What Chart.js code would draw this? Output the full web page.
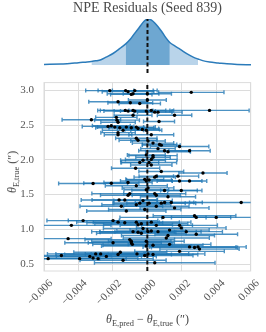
<!DOCTYPE html>
<html>
<head>
<meta charset="utf-8">
<script src="https://cdn.jsdelivr.net/npm/chart.js@4.4.1/dist/chart.umd.min.js"></script>
<style>
    html, body { margin: 0; padding: 0; background: #fff; }
    #wrap { position: relative; width: 266px; height: 332px; overflow: hidden; }
    .box { position: absolute; left: 0; width: 266px; }
    .lab {
        position: absolute;
        font-family: 'Liberation Serif', 'DejaVu Serif', serif;
        font-size: 12px;
        color: #444;
        white-space: nowrap;
        line-height: 1;
    }
    .lab sub { font-size: 0.7em; vertical-align: -0.3em; line-height: 0; }
    #xlab { left: 0; width: 295px; top: 313px; text-align: center; }
    #ylab { left: 12px; top: 172px; transform: translate(-50%, -50%) rotate(-90deg); }
</style>
</head>
<body>
<div id="wrap">
    <div class="box" style="top:66px;height:266px"><canvas id="residChart"></canvas></div>
    <div class="box" style="top:0;height:73px"><canvas id="kdeChart"></canvas></div>
    <div class="lab" id="xlab"><i>θ</i><sub>E,pred</sub> − <i>θ</i><sub>E,true</sub> (″)</div>
    <div class="lab" id="ylab"><i>θ</i><sub>E,true</sub> (″)</div>
</div>
<script>
// residuals (arcsec), true Einstein radius (arcsec), 1-sigma errors (arcsec)
const resid = [
    -0.00218, -0.00126, -0.00112, -0.00073, -0.00083, -0.00093, 0.00000, 0.00255,
    -0.00170, -0.00099, -0.00044, 0.00000, -0.00128, -0.00112, -0.00083, -0.00073,
    -0.00006, 0.00023, 0.00043, 0.00062, 0.00158, 0.00361, -0.00083, -0.00325,
    -0.00180, -0.00176, -0.00170, 0.00068, -0.00209, -0.00228, -0.00189, -0.00160,
    -0.00141, -0.00122, -0.00093, -0.00064, -0.00054, -0.00029, -0.00006, -0.00170,
    -0.00170, -0.00064, -0.00054, 0.00004, 0.00023, 0.00033, 0.00071, 0.00081,
    0.00062, 0.00187, 0.00120, 0.00245, 0.00100, -0.00006, 0.00033,
    -0.00025, 0.00023, 0.00033, -0.00044, 0.00010, -0.00068, 0.00023, 0.00081,
    0.00043, 0.00052, 0.00323, 0.00178, -0.00006, -0.00015, 0.00010, -0.00315,
    -0.00209, -0.00112, 0.00187, 0.00245, -0.00064, 0.00004, -0.00006, -0.00102,
    -0.00112, 0.00043, 0.00052, 0.00100, 0.00197, 0.00120, -0.00164, -0.00131,
    -0.00025, 0.00081, 0.00139, -0.00151, -0.00064, -0.00044, 0.00010, 0.00052,
    0.00100, 0.00545, -0.00122, -0.00015, 0.00158, -0.00373, -0.00441, -0.00199,
    -0.00170, -0.00131, -0.00064, -0.00054, -0.00035, 0.00023, 0.00052, 0.00091,
    0.00187, 0.00274, 0.00284, 0.00400, -0.00083, -0.00054, -0.00035, -0.00025,
    0.00004, 0.00023, 0.00062, 0.00129, 0.00197, 0.00226, 0.00284, -0.00460,
    -0.00102, -0.00093, -0.00006, 0.00110, 0.00120, -0.00199, -0.00093, -0.00087,
    -0.00006, 0.00033, 0.00129, 0.00187, 0.00245, 0.00274, 0.00294, 0.00303,
    -0.00576, -0.00499, -0.00393, -0.00334, -0.00315, -0.00300, -0.00286, -0.00271,
    -0.00238, -0.00170, -0.00157, -0.00141, -0.00060, -0.00015, 0.00004, 0.00033,
    0.00043
];
const thetaTrue = [
    2.995, 2.995, 2.980, 2.995, 2.950, 2.940, 2.950, 2.970,
    2.835, 2.820, 2.810, 2.860, 2.710, 2.700, 2.710, 2.700,
    2.700, 2.710, 2.685, 2.685, 2.640, 2.710, 2.640, 2.575,
    2.610, 2.570, 2.540, 2.550, 2.490, 2.480, 2.470, 2.460,
    2.425, 2.470, 2.460, 2.470, 2.450, 2.435, 2.425, 2.390,
    2.360, 2.310, 2.280, 2.270, 2.360, 2.240, 2.220, 2.210,
    2.160, 2.190, 2.115, 2.130, 2.130, 2.070, 2.060,
    1.992, 2.005, 2.037, 1.960, 1.960, 1.878, 1.924, 1.832,
    1.750, 1.764, 1.810, 1.764, 1.695, 1.718, 1.709, 1.659,
    1.663, 1.672, 1.695, 1.695, 1.627, 1.595, 1.568, 1.513,
    1.490, 1.513, 1.490, 1.559, 1.559, 1.467, 1.422, 1.422,
    1.413, 1.376, 1.385, 1.331, 1.354, 1.376, 1.376, 1.331,
    1.385, 1.385, 1.262, 1.285, 1.308, 1.125, 1.057, 1.125,
    1.103, 1.094, 1.103, 1.066, 1.080, 1.103, 1.057, 1.171,
    1.057, 1.194, 1.171, 1.171, 0.966, 0.957, 0.943, 1.011,
    0.966, 0.975, 0.966, 0.988, 1.020, 0.966, 0.929, 0.865,
    0.852, 0.829, 0.829, 0.874, 0.910, 0.806, 0.806, 0.783,
    0.760, 0.770, 0.783, 0.683, 0.747, 0.738, 0.747, 0.715,
    0.578, 0.623, 0.578, 0.610, 0.587, 0.646, 0.578, 0.646,
    0.610, 0.637, 0.669, 0.555, 0.646, 0.623, 0.646, 0.637,
    0.519
];
const residErr = [
    0.0014, 0.0016, 0.0015, 0.0013, 0.0015, 0.0012, 0.0014, 0.0019,
    0.0017, 0.0013, 0.0012, 0.0011, 0.0016, 0.0014, 0.0019, 0.0012,
    0.0015, 0.0013, 0.0010, 0.0014, 0.0010, 0.0023, 0.0011, 0.0017,
    0.0012, 0.0013, 0.0010, 0.0009, 0.0011, 0.0015, 0.0010, 0.0014,
    0.0012, 0.0010, 0.0013, 0.0011, 0.0012, 0.0010, 0.0009, 0.0010,
    0.0008, 0.0012, 0.0011, 0.0010, 0.0013, 0.0012, 0.0010, 0.0011,
    0.0010, 0.0017, 0.0013, 0.0012, 0.0015, 0.0011, 0.0014,
    0.0013, 0.0015, 0.0010, 0.0011, 0.0016, 0.0014, 0.0012, 0.0013,
    0.0012, 0.0010, 0.0014, 0.0012, 0.0015, 0.0011, 0.0013, 0.0020,
    0.0016, 0.0014, 0.0013, 0.0010, 0.0018, 0.0015, 0.0013, 0.0022,
    0.0016, 0.0018, 0.0014, 0.0019, 0.0012, 0.0016, 0.0022, 0.0019,
    0.0017, 0.0020, 0.0018, 0.0024, 0.0020, 0.0015, 0.0021, 0.0019,
    0.0017, 0.0030, 0.0023, 0.0021, 0.0020, 0.0021, 0.0023, 0.0026,
    0.0024, 0.0022, 0.0025, 0.0020, 0.0027, 0.0023, 0.0021, 0.0025,
    0.0022, 0.0024, 0.0020, 0.0026, 0.0024, 0.0022, 0.0026, 0.0023,
    0.0028, 0.0020, 0.0025, 0.0023, 0.0026, 0.0021, 0.0024, 0.0025,
    0.0026, 0.0023, 0.0022, 0.0025, 0.0027, 0.0028, 0.0025, 0.0023,
    0.0026, 0.0029, 0.0024, 0.0026, 0.0027, 0.0025, 0.0028, 0.0023,
    0.0030, 0.0029, 0.0027, 0.0030, 0.0026, 0.0028, 0.0032, 0.0026,
    0.0029, 0.0031, 0.0027, 0.0025, 0.0030, 0.0028, 0.0033, 0.0026,
    0.0035
];

// residual distribution shown above the plot
const kdeX = [
    -0.0060, -0.0050, -0.0045, -0.0040, -0.0035, -0.00325, -0.0030, -0.0027,
    -0.0024, -0.0020, -0.0016, -0.00126, -0.0010, -0.0008, -0.00045, -0.0002,
    0.00003, 0.00025, 0.00045, 0.0008, 0.00105, 0.00129, 0.0016, 0.0019,
    0.0023, 0.00265, 0.00293, 0.0032, 0.0036, 0.0041, 0.0046, 0.0052, 0.0060
];
const kdeDensity = [
    0.012, 0.022, 0.030, 0.050, 0.065, 0.075, 0.090, 0.115,
    0.170, 0.250, 0.360, 0.460, 0.560, 0.660, 0.830, 0.950,
    1.000, 0.970, 0.900, 0.740, 0.600, 0.490, 0.410, 0.340,
    0.240, 0.170, 0.130, 0.095, 0.065, 0.045, 0.025, 0.012, 0.006
];
const band68 = [-0.00126, 0.00129];
const band95 = [-0.00325, 0.00293];

const xTicks = [-0.006, -0.004, -0.002, 0, 0.002, 0.004, 0.006];
const yTicks = [0.5, 1.0, 1.5, 2.0, 2.5, 3.0];
const xRange = [-0.006, 0.006];
const yRange = [0.40, 3.11];

const serif = "'Liberation Serif', 'DejaVu Serif', serif";
const gridGrey = '#dcdcdc';

function kdePoints(lo, hi) {
    const pts = [];
    kdeX.forEach((x, i) => {
        if (x >= lo - 1e-9 && x <= hi + 1e-9) pts.push({ x: x, y: kdeDensity[i] });
    });
    return pts;
}

// horizontal error bars with caps, drawn under the markers
const errorBarPlugin = {
    id: 'errorBars',
    beforeDatasetsDraw(chart) {
        const { ctx, chartArea, scales } = chart;
        const ds = chart.data.datasets[0];
        ctx.save();
        ctx.beginPath();
        ctx.rect(chartArea.left, chartArea.top, chartArea.width, chartArea.height);
        ctx.clip();
        ctx.strokeStyle = 'rgba(31, 119, 180, 0.8)';
        ctx.lineWidth = 1.4;
        ds.data.forEach((p, i) => {
            const err = ds.errorBars[i];
            const x0 = scales.x.getPixelForValue(p.x - err);
            const x1 = scales.x.getPixelForValue(p.x + err);
            const y = scales.y.getPixelForValue(p.y);
            ctx.beginPath();
            ctx.moveTo(x0, y);
            ctx.lineTo(x1, y);
            ctx.moveTo(x0, y - 2);
            ctx.lineTo(x0, y + 2);
            ctx.moveTo(x1, y - 2);
            ctx.lineTo(x1, y + 2);
            ctx.stroke();
        });
        ctx.restore();
    }
};

const framePlugin = {
    id: 'frame',
    beforeDatasetsDraw(chart) {
        const { ctx, chartArea } = chart;
        ctx.save();
        ctx.strokeStyle = gridGrey;
        ctx.lineWidth = 1;
        ctx.strokeRect(chartArea.left, chartArea.top, chartArea.width, chartArea.height);
        ctx.restore();
    }
};

new Chart(document.getElementById('kdeChart'), {
    type: 'line',
    data: {
        datasets: [
            {
                data: kdeX.map((x, i) => ({ x: x, y: kdeDensity[i] })),
                borderColor: '#2b7bba',
                borderWidth: 1.5,
                pointRadius: 0,
                cubicInterpolationMode: 'monotone',
                fill: false,
                order: 1
            },
            {
                data: kdePoints(band68[0], band68[1]),
                borderWidth: 0,
                pointRadius: 0,
                backgroundColor: '#6ea7d1',
                cubicInterpolationMode: 'monotone',
                fill: 'origin',
                order: 2
            },
            {
                data: kdePoints(band95[0], band95[1]),
                borderWidth: 0,
                pointRadius: 0,
                backgroundColor: '#b9d4ea',
                cubicInterpolationMode: 'monotone',
                fill: 'origin',
                order: 3
            },
            {
                data: [{ x: 0, y: -0.174 }, { x: 0, y: 1.0 }],
                borderColor: '#111',
                borderWidth: 2,
                borderDash: [4, 2.5],
                pointRadius: 0,
                fill: false,
                order: 0
            }
        ]
    },
    options: {
        responsive: true,
        maintainAspectRatio: false,
        animation: false,
        layout: { padding: { left: 44, right: 15, top: 0, bottom: 0 } },
        plugins: {
            legend: { display: false },
            tooltip: { enabled: false },
            title: {
                display: true,
                text: 'NPE Residuals (Seed 839)',
                color: '#4a4a4a',
                font: { family: serif, size: 14, weight: 'normal' },
                padding: { top: 0, bottom: 2.2 }
            }
        },
        scales: {
            x: { type: 'linear', min: xRange[0], max: xRange[1], display: false },
            y: { type: 'linear', min: -0.174, max: 1.0, display: false }
        }
    }
});

new Chart(document.getElementById('residChart'), {
    type: 'scatter',
    data: {
        datasets: [
            {
                data: resid.map((r, i) => ({ x: r, y: thetaTrue[i] })),
                errorBars: residErr,
                pointRadius: 1.7,
                pointBackgroundColor: '#000',
                pointBorderWidth: 0,
                order: 0
            },
            {
                type: 'line',
                data: [{ x: 0, y: yRange[0] }, { x: 0, y: yRange[1] }],
                borderColor: '#111',
                borderWidth: 2,
                borderDash: [4, 2.5],
                pointRadius: 0,
                order: 1
            }
        ]
    },
    options: {
        responsive: true,
        maintainAspectRatio: false,
        animation: false,
        layout: { padding: { left: 0, right: 15, top: 7, bottom: 0 } },
        plugins: {
            legend: { display: false },
            tooltip: { enabled: false }
        },
        scales: {
            x: {
                type: 'linear',
                min: xRange[0],
                max: xRange[1],
                afterBuildTicks: axis => { axis.ticks = xTicks.map(v => ({ value: v })); },
                afterFit: axis => { axis.height = 61; },
                grid: { color: gridGrey, drawTicks: false },
                border: { display: false },
                ticks: {
                    minRotation: 45,
                    maxRotation: 45,
                    padding: 6,
                    labelOffset: 7,
                    color: '#555',
                    font: { family: serif, size: 11 },
                    callback: v => v.toFixed(3).replace('-', '\u2212')
                }
            },
            y: {
                type: 'linear',
                min: yRange[0],
                max: yRange[1],
                afterBuildTicks: axis => { axis.ticks = yTicks.map(v => ({ value: v })); },
                afterFit: axis => { axis.width = 44; },
                grid: { color: gridGrey, drawTicks: false },
                border: { display: false },
                ticks: {
                    padding: 10,
                    color: '#555',
                    font: { family: serif, size: 11 },
                    callback: v => v.toFixed(1)
                }
            }
        }
    },
    plugins: [framePlugin, errorBarPlugin]
});
</script>
</body>
</html>
